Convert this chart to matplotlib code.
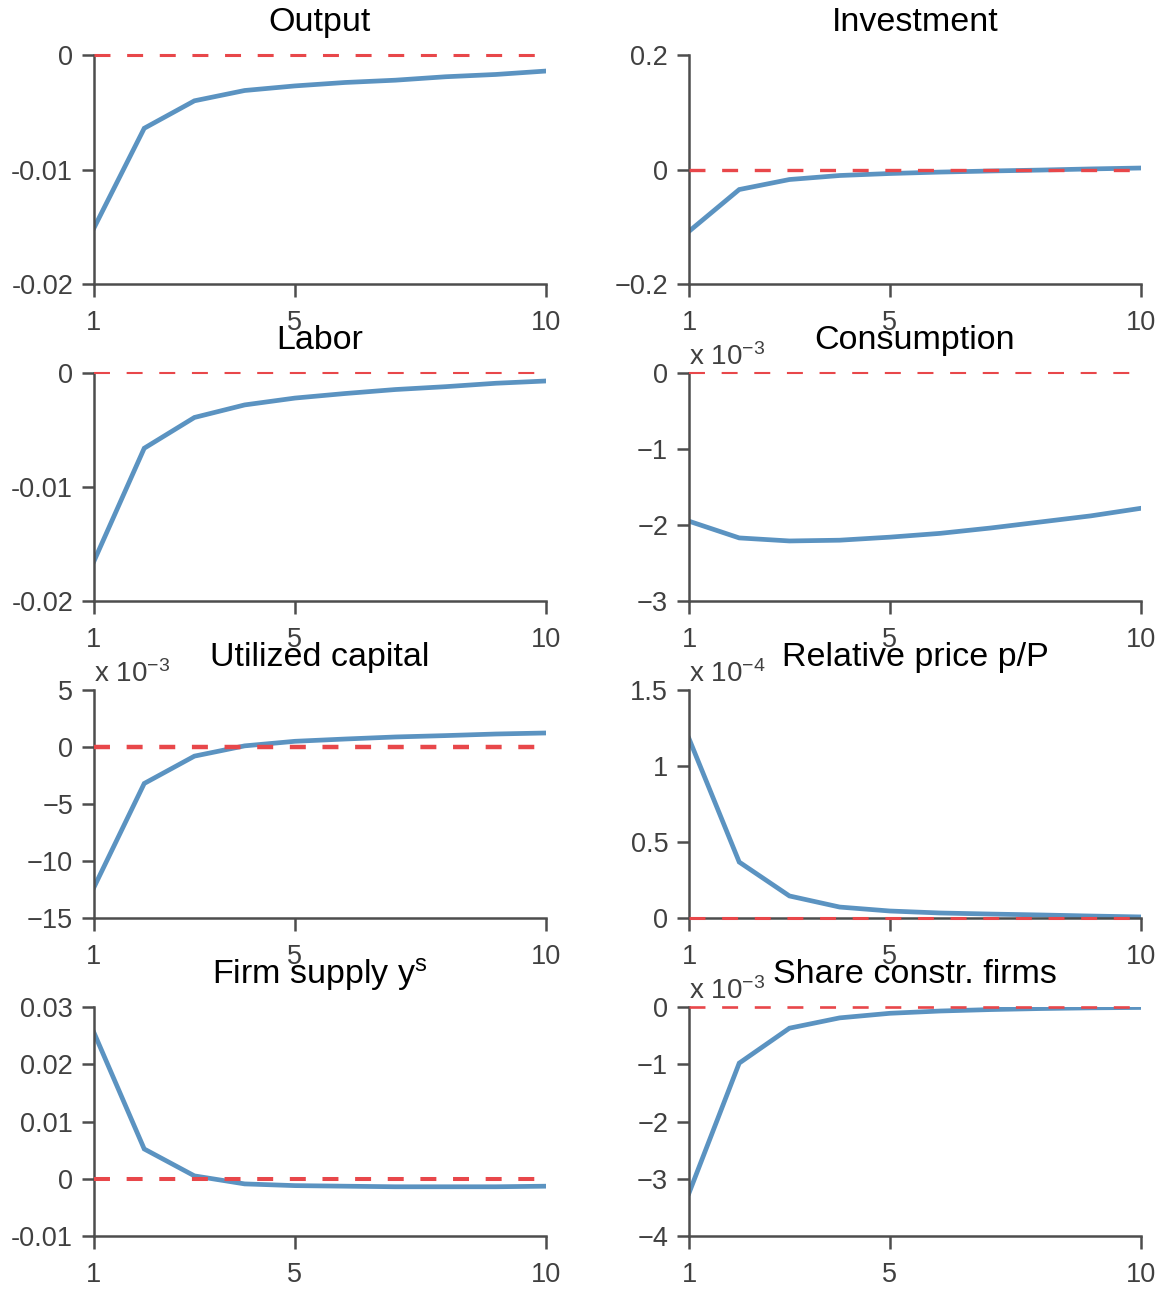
#!/usr/bin/env python3
"""
Impulse responses, 4x2 panel grid
"""

import matplotlib
matplotlib.use('Agg')
import matplotlib.pyplot as plt
import numpy as np

plt.rcParams['font.family'] = ['Liberation Sans', 'DejaVu Sans']
plt.rcParams['mathtext.fontset'] = 'custom'
plt.rcParams['mathtext.rm'] = 'Liberation Sans'
plt.rcParams['mathtext.it'] = 'Liberation Sans:italic'
plt.rcParams['lines.scale_dashes'] = False

horizon = np.arange(1, 11)

# responses (scaled panels are stored in units of the axis multiplier)
output = [-0.0151, -0.0064, -0.0040, -0.0031, -0.0027, -0.0024, -0.0022, -0.0019, -0.0017, -0.0014]
investment = [-0.108, -0.035, -0.0175, -0.0105, -0.007, -0.0045, -0.0026, -0.001, 0.001, 0.0026]
labor = [-0.0165, -0.0066, -0.0039, -0.0028, -0.0022, -0.0018, -0.00145, -0.0012, -0.0009, -0.0007]
consumption = [-1.95, -2.17, -2.21, -2.20, -2.16, -2.11, -2.04, -1.96, -1.88, -1.78]
util_capital = [-12.3, -3.2, -0.8, 0.1, 0.5, 0.7, 0.88, 1.0, 1.14, 1.23]
rel_price = [1.18, 0.368, 0.145, 0.072, 0.046, 0.033, 0.026, 0.020, 0.013, 0.007]
firm_supply = [0.0255, 0.0052, 0.0005, -0.0009, -0.0012, -0.0013, -0.0014, -0.0014, -0.0014, -0.0013]
share_constr = [-3.25, -0.98, -0.37, -0.19, -0.11, -0.07, -0.045, -0.027, -0.015, -0.008]

titles = ['Output', 'Investment', 'Labor', 'Consumption',
          'Utilized capital', 'Relative price p/P',
          r'Firm supply y$^{\mathrm{s}}$', 'Share constr. firms']
series = [output, investment, labor, consumption,
          util_capital, rel_price, firm_supply, share_constr]
yticks = [[-0.02, -0.01, 0], [-0.2, 0, 0.2], [-0.02, -0.01, 0], [-3, -2, -1, 0],
          [-15, -10, -5, 0, 5], [0, 0.5, 1, 1.5], [-0.01, 0, 0.01, 0.02, 0.03],
          [-4, -3, -2, -1, 0]]
yticklabels = [['-0.02', '-0.01', '0'], ['\u22120.2', '0', '0.2'],
               ['-0.02', '-0.01', '0'], ['\u22123', '\u22122', '\u22121', '0'],
               ['\u221215', '\u221210', '\u22125', '0', '5'], ['0', '0.5', '1', '1.5'],
               ['-0.01', '0', '0.01', '0.02', '0.03'],
               ['\u22124', '\u22123', '\u22122', '\u22121', '0']]
multipliers = [None, None, None, r'x 10$^{-3}$', r'x 10$^{-3}$', r'x 10$^{-4}$',
               None, r'x 10$^{-3}$']
xticks = [1, 5, 10]

BLUE = '#5b93c1'
RED = '#e8474a'
GREY = '#4d4d4d'
zero_lw = [2.2, 2.4, 1.5, 1.5, 3.2, 2.2, 2.9, 1.9]

W, H = 1164, 1289
fig = plt.figure(figsize=(W / 100, H / 100), dpi=100)

lefts = [94, 689]
rows = [(55, 284), (373, 601), (690, 918), (1007, 1236)]

for i in range(8):
    r, c = divmod(i, 2)
    top, bot = rows[r]
    ax = fig.add_axes([lefts[c] / W, 1 - bot / H, 452 / W, (bot - top) / H])

    ax.plot(horizon, series[i], color=BLUE, lw=3.4, zorder=2,
            solid_joinstyle='miter')
    ax.plot([1, 10], [0, 0], color=RED, lw=zero_lw[i], zorder=3,
            linestyle=(0, (11.5, 12.0)), clip_on=False)

    ax.set_xlim(1, 10)
    ax.set_ylim(yticks[i][0], yticks[i][-1])
    ax.set_xticks(xticks)
    ax.set_xticklabels([str(t) for t in xticks])
    ax.set_yticks(yticks[i])
    ax.set_yticklabels(yticklabels[i])

    for s in ['top', 'right']:
        ax.spines[s].set_visible(False)
    for s in ['left', 'bottom']:
        ax.spines[s].set_color(GREY)
        ax.spines[s].set_linewidth(1.8)
    ax.tick_params(axis='both', direction='out', length=9, width=1.8,
                   color=GREY, labelcolor='#404040', labelsize=19.5)
    ax.tick_params(axis='x', pad=9.5)
    ax.tick_params(axis='y', pad=6)

    ax.set_title(titles[i], fontsize=24.5, pad=17, color='black')

    if multipliers[i]:
        ax.annotate(multipliers[i], xy=(0, 1), xycoords='axes fraction',
                    xytext=(0, 6), textcoords='offset points',
                    ha='left', va='baseline', fontsize=20, color='#404040')

fig.savefig('out.png', dpi=100)
print("Saved plot: out.png")
